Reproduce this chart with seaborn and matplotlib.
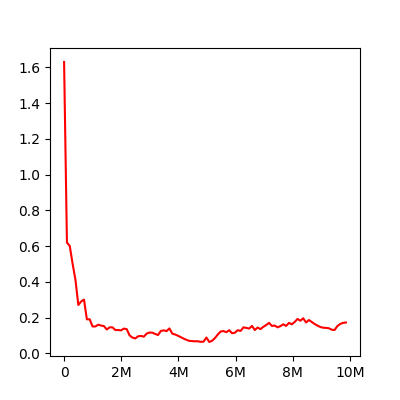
import numpy as np
import pandas as pd
import seaborn as sns
import matplotlib
matplotlib.use('Agg')
import matplotlib.pyplot as plt
from matplotlib.ticker import FuncFormatter

STEP_SIZE = 99_600

loss = [
    1.63, 0.62, 0.60, 0.50, 0.41, 0.27, 0.29, 0.30, 0.19, 0.19,
    0.15, 0.15, 0.16, 0.155, 0.152, 0.133, 0.145, 0.145, 0.13, 0.13,
    0.128, 0.138, 0.135, 0.10, 0.088, 0.083, 0.095, 0.097, 0.093, 0.11,
    0.116, 0.115, 0.108, 0.102, 0.125, 0.128, 0.124, 0.139, 0.11, 0.105,
    0.098, 0.09, 0.082, 0.075, 0.069, 0.068, 0.067, 0.067, 0.064, 0.065,
    0.088, 0.063, 0.07, 0.085, 0.105, 0.122, 0.124, 0.118, 0.129, 0.112,
    0.115, 0.129, 0.125, 0.145, 0.142, 0.138, 0.153, 0.13, 0.144, 0.135,
    0.148, 0.158, 0.17, 0.153, 0.155, 0.145, 0.152, 0.162, 0.153, 0.17,
    0.162, 0.175, 0.192, 0.182, 0.196, 0.172, 0.186, 0.175, 0.164, 0.155,
    0.147, 0.143, 0.142, 0.14, 0.132, 0.13, 0.152, 0.164, 0.17, 0.172,
]
steps = np.arange(len(loss)) * STEP_SIZE

df = pd.DataFrame({'step': steps, 'loss': loss})


def millions(x, pos):
    if x == 0:
        return '0'
    return f'{x / 1e6:g}M'


fig, ax = plt.subplots(figsize=(4, 4), dpi=100)
sns.lineplot(data=df, x='step', y='loss', color='red', linewidth=1.5, ax=ax)
ax.xaxis.set_major_formatter(FuncFormatter(millions))
ax.set_xlabel('')
ax.set_ylabel('')
fig.savefig('out.png', dpi=100)
